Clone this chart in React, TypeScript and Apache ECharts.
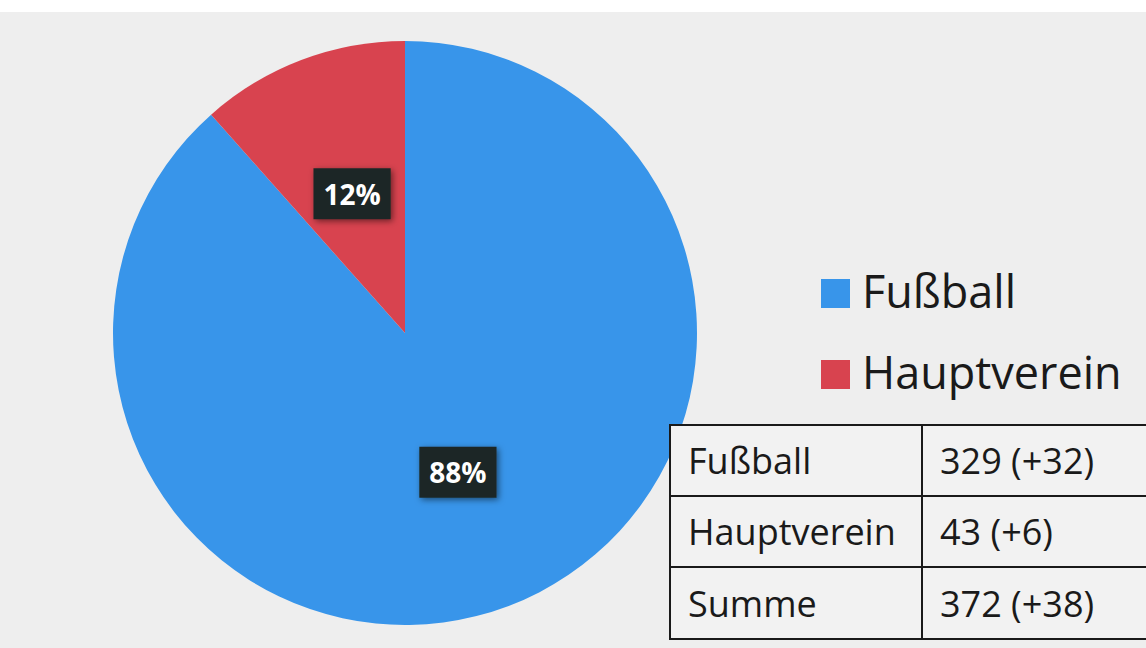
import React, { useEffect, useRef } from "react";
import * as echarts from "echarts";

const categories = ["Fußball", "Hauptverein"];
const memberValues = [329, 43];
const sliceColors = ["#3895ea", "#d8434f"];
const tableLabels = ["Fußball", "Hauptverein", "Summe"];
const tableValues = ["329 (+32)", "43 (+6)", "372 (+38)"];

const FONT = "'Open Sans', 'Noto Sans', sans-serif";

export default function App() {
  const ref = useRef<HTMLDivElement>(null);
  useEffect(() => {
    if (!ref.current) return;
    const chart = echarts.init(ref.current, undefined, { renderer: "svg" });
    const total = memberValues.reduce((a, b) => a + b, 0);

    const tableX = 670;
    const col2X = 922;
    const rightX = 1160;
    const rowYs = [425, 496, 567, 639];
    const tableGraphics: any[] = [];
    tableGraphics.push({
      type: "rect",
      shape: { x: tableX, y: rowYs[0], width: rightX - tableX, height: rowYs[3] - rowYs[0] },
      style: { fill: "#f2f2f2", stroke: "#1a1a1a", lineWidth: 2 },
      z: 10,
    });
    for (let i = 1; i < 3; i++) {
      tableGraphics.push({
        type: "line",
        shape: { x1: tableX, y1: rowYs[i], x2: rightX, y2: rowYs[i] },
        style: { stroke: "#1a1a1a", lineWidth: 2 },
        z: 11,
      });
    }
    tableGraphics.push({
      type: "line",
      shape: { x1: col2X, y1: rowYs[0], x2: col2X, y2: rowYs[3] },
      style: { stroke: "#1a1a1a", lineWidth: 2 },
      z: 11,
    });
    tableLabels.forEach((lab, i) => {
      const cy = (rowYs[i] + rowYs[i + 1]) / 2;
      tableGraphics.push({
        type: "text",
        x: 688,
        y: cy,
        style: { text: lab, fontSize: 36, fontFamily: FONT, fill: "#1a1a1a", verticalAlign: "middle", align: "left" },
        z: 12,
      });
      tableGraphics.push({
        type: "text",
        x: 940,
        y: cy,
        style: { text: tableValues[i], fontSize: 36, fontFamily: FONT, fill: "#1a1a1a", verticalAlign: "middle", align: "left" },
        z: 12,
      });
    });

    const legendTops = [279, 360];
    const legendGraphics: any[] = [];
    categories.forEach((c, i) => {
      legendGraphics.push({
        type: "rect",
        shape: { x: 821, y: legendTops[i], width: 29, height: 29 },
        style: { fill: sliceColors[i] },
        z: 5,
      });
      legendGraphics.push({
        type: "text",
        x: 862,
        y: legendTops[i] + 11,
        style: { text: c, fontSize: 45, fontFamily: FONT, fill: "#1a1a1a", verticalAlign: "middle", align: "left" },
        z: 5,
      });
    });

    chart.setOption({
      animation: false,
      backgroundColor: "#eeeeee",
      color: sliceColors,
      graphic: [
        {
          type: "rect",
          shape: { x: 0, y: 0, width: 1146, height: 12 },
          style: { fill: "#ffffff" },
          z: 0,
        },
        ...legendGraphics,
        ...tableGraphics,
      ],
      series: [
        {
          type: "pie",
          center: [405, 333],
          radius: 292,
          startAngle: 90,
          clockwise: true,
          data: categories.map((c, i) => ({ name: c, value: memberValues[i] })),
          label: {
            show: true,
            position: "inner",
            formatter: (p: any) => Math.round((p.value / total) * 100) + "%",
            color: "#ffffff",
            fontSize: 28,
            lineHeight: 28,
            fontWeight: "bold",
            fontFamily: FONT,
            backgroundColor: "#1e2826",
            padding: [12, 10, 11, 10],
            shadowColor: "rgba(0,0,0,0.5)",
            shadowBlur: 6,
            shadowOffsetX: 2,
            shadowOffsetY: 2,
          },
          labelLine: { show: false },
          itemStyle: { borderWidth: 0 },
          emphasis: { disabled: true },
        },
      ],
    });
    return () => chart.dispose();
  }, []);
  return (
    <div
      ref={ref}
      style={{ position: "fixed", left: 0, top: 0, width: 1146, height: 648 }}
    />
  );
}
